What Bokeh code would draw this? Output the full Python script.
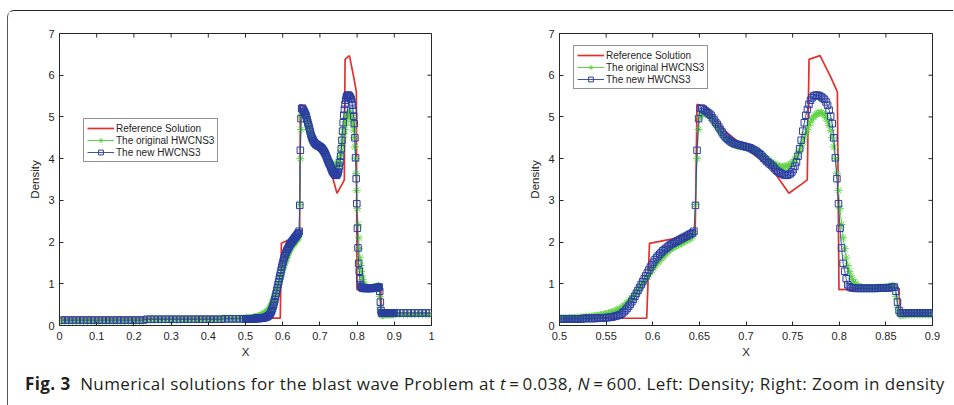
import math
from bokeh.plotting import figure
from bokeh.models import FixedTicker, Legend, LegendItem, Div, Range1d
from bokeh.layouts import row, column
from bokeh.embed import file_html
from bokeh.resources import INLINE

# ---------------- data ----------------
# reference solution (polyline)
x_ref = [0.0, 0.5935, 0.5965, 0.62, 0.6455, 0.6475, 0.6515, 0.6567, 0.6656, 0.6763,
         0.705, 0.7264, 0.746, 0.7604, 0.7657, 0.7676, 0.7794, 0.7908, 0.798, 0.7997,
         0.8634, 0.866, 1.0]
d_ref = [0.17, 0.175, 1.97, 2.07, 2.22, 5.3, 5.28, 5.24, 5.0, 4.68,
         4.16, 3.8, 3.17, 3.4, 3.49, 6.38, 6.47, 5.96, 5.6, 0.86,
         0.90, 0.30, 0.30]

# numerical solutions, coarse part x in [0, 0.5)
x_lo = [0.005 + 0.01 * k for k in range(50)]
blue_lo = [0.13, 0.13, 0.13, 0.13, 0.13, 0.13, 0.13, 0.13, 0.13, 0.13,
           0.13, 0.13, 0.13, 0.13, 0.13, 0.13, 0.13, 0.13, 0.13, 0.13,
           0.13, 0.13, 0.13, 0.15, 0.15, 0.15, 0.15, 0.15, 0.15, 0.15,
           0.15, 0.15, 0.15, 0.15, 0.15, 0.15, 0.15, 0.15, 0.15, 0.15,
           0.15, 0.15, 0.15, 0.15, 0.16, 0.16, 0.16, 0.16, 0.16, 0.16]
green_lo = [0.11, 0.11, 0.11, 0.11, 0.11, 0.11, 0.11, 0.11, 0.11, 0.11,
            0.11, 0.11, 0.11, 0.11, 0.11, 0.11, 0.11, 0.11, 0.11, 0.11,
            0.11, 0.11, 0.11, 0.14, 0.14, 0.14, 0.14, 0.14, 0.14, 0.14,
            0.14, 0.14, 0.14, 0.15, 0.15, 0.15, 0.15, 0.15, 0.15, 0.15,
            0.15, 0.15, 0.15, 0.16, 0.16, 0.16, 0.16, 0.16, 0.17, 0.17]

# grid cells N=600 for x in [0.5, 0.9)
x_mid = [(i + 0.5) / 600 for i in range(300, 540)]
blue_mid = [
    0.16, 0.16, 0.16, 0.16, 0.16, 0.16, 0.16, 0.16, 0.16, 0.16,
    0.16, 0.16, 0.16, 0.16, 0.16, 0.17, 0.17, 0.17, 0.17, 0.17,
    0.17, 0.17, 0.17, 0.17, 0.18, 0.18, 0.18, 0.18, 0.18, 0.19,
    0.19, 0.19, 0.2, 0.2, 0.21, 0.22, 0.23, 0.24, 0.25, 0.27,
    0.3, 0.33, 0.37, 0.41, 0.46, 0.51, 0.57, 0.63, 0.7, 0.77,
    0.84, 0.91, 0.98, 1.05, 1.12, 1.19, 1.26, 1.33, 1.4, 1.46,
    1.52, 1.58, 1.63, 1.67, 1.71, 1.75, 1.79, 1.82, 1.85, 1.88,
    1.91, 1.94, 1.96, 1.98, 2.0, 2.02, 2.04, 2.06, 2.08, 2.1,
    2.12, 2.14, 2.16, 2.18, 2.2, 2.22, 2.26, 2.88, 4.2, 4.96,
    5.2, 5.21, 5.19, 5.16, 5.13, 5.1, 5.07, 5.04, 4.98, 4.93,
    4.87, 4.82, 4.76, 4.7, 4.64, 4.58, 4.53, 4.49, 4.46, 4.43,
    4.4, 4.38, 4.36, 4.35, 4.34, 4.33, 4.32, 4.31, 4.3, 4.29,
    4.28, 4.27, 4.26, 4.24, 4.22, 4.2, 4.18, 4.15, 4.12, 4.09,
    4.05, 4.01, 3.97, 3.93, 3.9, 3.87, 3.84, 3.8, 3.76, 3.72,
    3.69, 3.67, 3.65, 3.63, 3.61, 3.6, 3.6, 3.62, 3.64, 3.68,
    3.74, 3.82, 3.92, 4.06, 4.24, 4.44, 4.66, 4.86, 5.04, 5.18,
    5.3, 5.4, 5.46, 5.5, 5.52, 5.52, 5.52, 5.5, 5.48, 5.45,
    5.42, 5.36, 5.28, 5.16, 5.02, 4.84, 4.5, 4.02, 3.52, 2.92,
    2.33, 1.86, 1.49, 1.3, 1.12, 0.98, 0.93, 0.91, 0.9, 0.9,
    0.89, 0.89, 0.89, 0.89, 0.89, 0.89, 0.89, 0.89, 0.89, 0.89,
    0.89, 0.89, 0.89, 0.89, 0.89, 0.9, 0.9, 0.9, 0.9, 0.9,
    0.9, 0.9, 0.91, 0.91, 0.92, 0.92, 0.82, 0.56, 0.36, 0.3,
    0.3, 0.3, 0.3, 0.3, 0.3, 0.3, 0.3, 0.3, 0.3, 0.3,
    0.3, 0.3, 0.3, 0.3, 0.3, 0.3, 0.3, 0.3, 0.3, 0.3,
]
green_mid = [
    0.17, 0.17, 0.17, 0.17, 0.17, 0.17, 0.18, 0.18, 0.18, 0.18,
    0.18, 0.18, 0.19, 0.19, 0.19, 0.19, 0.2, 0.2, 0.2, 0.21,
    0.21, 0.22, 0.22, 0.23, 0.23, 0.24, 0.25, 0.25, 0.26, 0.27,
    0.28, 0.29, 0.3, 0.31, 0.32, 0.34, 0.35, 0.37, 0.39, 0.41,
    0.44, 0.47, 0.5, 0.54, 0.58, 0.62, 0.66, 0.7, 0.75, 0.8,
    0.85, 0.9, 0.95, 1.0, 1.06, 1.11, 1.17, 1.22, 1.28, 1.33,
    1.38, 1.43, 1.48, 1.52, 1.56, 1.6, 1.64, 1.68, 1.72, 1.76,
    1.8, 1.83, 1.86, 1.88, 1.9, 1.92, 1.94, 1.96, 1.98, 2.0,
    2.02, 2.04, 2.06, 2.08, 2.1, 2.13, 2.2, 2.9, 4.0, 4.7,
    5.0, 5.08, 5.1, 5.09, 5.07, 5.04, 5.01, 4.97, 4.93, 4.88,
    4.83, 4.77, 4.71, 4.65, 4.59, 4.54, 4.5, 4.46, 4.43, 4.4,
    4.37, 4.35, 4.33, 4.32, 4.31, 4.3, 4.29, 4.29, 4.28, 4.28,
    4.27, 4.26, 4.25, 4.23, 4.21, 4.19, 4.17, 4.15, 4.13, 4.11,
    4.08, 4.05, 4.02, 3.99, 3.96, 3.93, 3.91, 3.88, 3.86, 3.84,
    3.82, 3.81, 3.8, 3.8, 3.8, 3.81, 3.82, 3.84, 3.86, 3.89,
    3.93, 3.98, 4.04, 4.12, 4.2, 4.3, 4.4, 4.5, 4.6, 4.7,
    4.8, 4.88, 4.95, 5.0, 5.04, 5.07, 5.09, 5.1, 5.1, 5.08,
    5.04, 4.98, 4.9, 4.8, 4.68, 4.5, 4.28, 4.0, 3.64, 3.24,
    2.8, 2.42, 2.1, 1.84, 1.62, 1.44, 1.3, 1.19, 1.1, 1.04,
    0.99, 0.96, 0.94, 0.92, 0.91, 0.9, 0.9, 0.9, 0.9, 0.9,
    0.9, 0.9, 0.9, 0.9, 0.9, 0.91, 0.91, 0.91, 0.91, 0.92,
    0.92, 0.93, 0.93, 0.94, 0.95, 0.94, 0.7, 0.44, 0.3, 0.25,
    0.25, 0.26, 0.26, 0.26, 0.27, 0.27, 0.27, 0.27, 0.27, 0.27,
    0.27, 0.27, 0.27, 0.27, 0.27, 0.27, 0.27, 0.27, 0.27, 0.27,
]

# coarse part x in [0.9, 1.0]
x_hi = [0.905 + 0.01 * k for k in range(10)]
blue_hi = [0.3, 0.3, 0.3, 0.3, 0.3, 0.3, 0.3, 0.3, 0.3, 0.3]
green_hi = [0.27, 0.27, 0.27, 0.27, 0.27, 0.27, 0.27, 0.27, 0.27, 0.27]

x_num = x_lo + x_mid + x_hi
d_new = blue_lo + blue_mid + blue_hi
d_orig = green_lo + green_mid + green_hi

labels = ["Reference Solution", "The original HWCNS3", "The new HWCNS3"]

y_ticks = [0, 1, 2, 3, 4, 5, 6, 7]
x_ticks_left = [0, 0.1, 0.2, 0.3, 0.4, 0.5, 0.6, 0.7, 0.8, 0.9, 1]
x_labels_left = ["0", "0.1", "0.2", "0.3", "0.4", "0.5", "0.6", "0.7", "0.8", "0.9", "1"]
x_ticks_right = [0.5, 0.55, 0.6, 0.65, 0.7, 0.75, 0.8, 0.85, 0.9]
x_labels_right = ["0.5", "0.55", "0.6", "0.65", "0.7", "0.75", "0.8", "0.85", "0.9"]

RED = "#e2302d"
GREEN = "#5fd443"
BLUE = "#2b3ea0"
AX = "#262626"
FONT = "Liberation Sans"


def style_axis(ax, ticks, overrides=None):
    ax.ticker = FixedTicker(ticks=ticks)
    ax.axis_line_color = AX
    ax.axis_line_width = 1
    ax.major_tick_line_color = AX
    ax.major_tick_in = 4
    ax.major_tick_out = 0
    ax.minor_tick_line_color = None
    ax.major_label_text_font = FONT
    ax.major_label_text_color = AX
    ax.major_label_text_font_size = "11px"
    if overrides:
        ax.major_label_overrides = overrides
    ax.axis_label_text_font = FONT
    ax.axis_label_text_font_size = "11.5px"
    ax.axis_label_text_font_style = "normal"
    ax.axis_label_text_color = AX


def panel(xticks, xlabels, fw, legend_loc, mbl, mbr):
    p = figure(frame_width=fw, frame_height=292,
               x_range=Range1d(xticks[0], xticks[-1]),
               y_range=Range1d(y_ticks[0], y_ticks[-1]),
               output_backend="svg", toolbar_location=None,
               min_border_left=mbl, min_border_right=mbr,
               min_border_top=22, min_border_bottom=40)
    p.xgrid.visible = False
    p.ygrid.visible = False
    p.outline_line_color = AX
    p.outline_line_width = 1
    p.background_fill_color = "white"
    p.border_fill_color = "white"

    r_ref = p.line(x_ref, d_ref, line_color=RED, line_width=1.7)
    g_line = p.line(x_num, d_orig, line_color=GREEN, line_width=1)
    g_pts = p.scatter(x_num, d_orig, marker="asterisk", size=8,
                      line_color=GREEN, line_width=1)
    b_line = p.line(x_num, d_new, line_color=BLUE, line_width=0.9)
    b_pts = p.scatter(x_num, d_new, marker="square", size=6.5,
                      line_color=BLUE, fill_color=None, line_width=1)

    # mirrored inward ticks on the top and right edges of the box
    p.scatter(xticks, [y_ticks[-1]] * len(xticks), marker="dash", angle=math.pi / 2,
              size=8, line_color=AX, line_width=1)
    p.scatter([xticks[-1]] * len(y_ticks), y_ticks, marker="dash",
              size=8, line_color=AX, line_width=1)

    style_axis(p.xaxis[0], xticks, dict(zip(xticks, xlabels)))
    style_axis(p.yaxis[0], y_ticks)
    p.xaxis.axis_label = "X"
    p.yaxis.axis_label = "Density"
    p.xaxis.major_label_standoff = 6
    p.xaxis.axis_label_standoff = 3
    p.yaxis.major_label_standoff = 5
    p.yaxis.axis_label_standoff = 4

    leg = Legend(items=[LegendItem(label=labels[0], renderers=[r_ref]),
                        LegendItem(label=labels[1], renderers=[g_line, g_pts]),
                        LegendItem(label=labels[2], renderers=[b_line, b_pts])],
                 location=legend_loc)
    leg.label_text_font = FONT
    leg.label_text_font_size = "10px"
    leg.label_text_color = AX
    leg.glyph_width = 27
    leg.glyph_height = 12
    leg.label_height = 12
    leg.label_standoff = 2
    leg.spacing = 0
    leg.padding = 3
    leg.margin = 0
    leg.border_line_color = AX
    leg.border_line_width = 1
    leg.background_fill_alpha = 1
    p.add_layout(leg)
    return p


p1 = panel(x_ticks_left, x_labels_left, 372, (24, 163), 51, 80)
p2 = panel(x_ticks_right, x_labels_right, 373, (14, 236), 48, 21)

caption = Div(
    text='<b>Fig. 3</b>&nbsp; Numerical solutions for the blast wave Problem at '
         '<i>t</i>&#8201;=&#8201;0.038, <i>N</i>&#8201;=&#8201;600. '
         'Left: Density; Right: Zoom in density',
    width=935, height=36,
    styles={"font-family": "Open Sans", "font-size": "17px", "color": "#231f20",
            "letter-spacing": "0.4px",
            "padding-left": "12px", "padding-top": "2px", "white-space": "nowrap"})

layout = column(row(p1, p2), caption,
                styles={"border-top": "1.5px solid #222",
                        "border-left": "1.5px solid #555",
                        "border-top-left-radius": "7px",
                        "margin-top": "10px", "margin-left": "7px"})

with open("out.html", "w") as f:
    f.write(file_html(layout, INLINE))
